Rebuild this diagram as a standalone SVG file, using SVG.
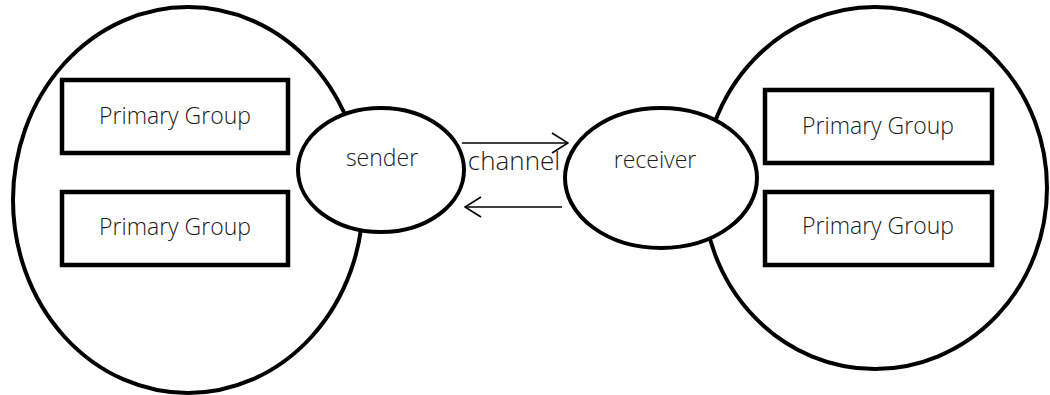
<svg xmlns="http://www.w3.org/2000/svg" width="1050" height="395" viewBox="0 0 1050 395">
  <style>
    .shape { fill: #ffffff; stroke: #000000; stroke-width: 4; }
    .box { fill: #ffffff; stroke: #000000; stroke-width: 4.5; }
    .label { font-family: "Open Sans", "DejaVu Sans", sans-serif; font-size: 23px; font-weight: 300; fill: #1a1a1a; text-anchor: middle; }
    .link { fill: none; stroke: #000000; stroke-width: 1.6; }
  </style>
  <defs>
    <marker id="chevron" viewBox="0 0 18 22" refX="17" refY="11" markerWidth="18" markerHeight="22" markerUnits="userSpaceOnUse" orient="auto">
      <path d="M1 1 L17 11 L1 21" fill="none" stroke="#000000" stroke-width="1.6"/>
    </marker>
  </defs>

  <rect width="1050" height="395" fill="#ffffff"/>

  <!-- outer group circles -->
  <g id="left-community">
    <ellipse class="shape" cx="188" cy="200" rx="175" ry="193"/>
  </g>
  <g id="right-community">
    <ellipse class="shape" cx="875" cy="188" rx="172" ry="181"/>
  </g>

  <!-- primary groups -->
  <g id="left-primary-1">
    <rect class="box" x="62" y="80" width="226" height="73"/>
    <text class="label" x="175" y="124">Primary Group</text>
  </g>
  <g id="left-primary-2">
    <rect class="box" x="62" y="192" width="226" height="73"/>
    <text class="label" x="175" y="235">Primary Group</text>
  </g>
  <g id="right-primary-1">
    <rect class="box" x="765" y="90" width="227" height="73"/>
    <text class="label" x="878" y="134">Primary Group</text>
  </g>
  <g id="right-primary-2">
    <rect class="box" x="765" y="192" width="227" height="73"/>
    <text class="label" x="878" y="234">Primary Group</text>
  </g>

  <!-- communicators -->
  <g id="sender">
    <ellipse class="shape" cx="381" cy="170" rx="83" ry="62"/>
    <text class="label" x="382" y="166">sender</text>
  </g>
  <g id="receiver">
    <ellipse class="shape" cx="661" cy="178" rx="96" ry="70"/>
    <text class="label" x="655" y="168">receiver</text>
  </g>

  <!-- channel arrows -->
  <g id="connectors">
    <line class="link" x1="462" y1="143" x2="568" y2="143" marker-end="url(#chevron)"/>
    <line class="link" x1="562" y1="207" x2="465" y2="207" marker-end="url(#chevron)"/>
    <text class="label" x="514" y="170" style="font-size:26px">channel</text>
  </g>
</svg>
